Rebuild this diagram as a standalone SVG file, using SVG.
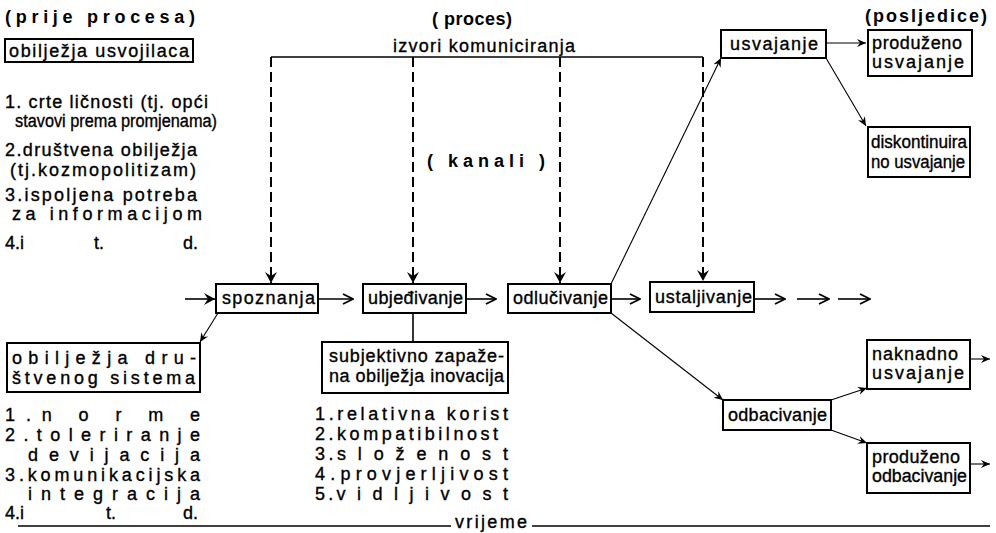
<svg xmlns="http://www.w3.org/2000/svg" width="996" height="533" viewBox="0 0 996 533">
<defs>
<style>
text{font-family:"Liberation Sans","DejaVu Sans",sans-serif;font-size:18px;fill:#000;stroke:#000;stroke-width:0.35;}
.h{font-size:18px;font-weight:bold;stroke-width:0;}
.b{fill:#fff;stroke:#000;stroke-width:2;}
.ln{fill:none;stroke:#000;stroke-width:1.6;}
.th{fill:none;stroke:#000;stroke-width:1.1;}
.ds{fill:none;stroke:#000;stroke-width:2;stroke-dasharray:10 5;}
</style>
<marker id="op" markerWidth="12" markerHeight="12" refX="11" refY="6" orient="auto" markerUnits="userSpaceOnUse">
<path d="M1,1 L11,6 L1,11" fill="none" stroke="#000" stroke-width="1.8"/>
</marker>
<marker id="fl" markerWidth="12" markerHeight="12" refX="11" refY="6" orient="auto" markerUnits="userSpaceOnUse">
<path d="M0,0 L11,6 L0,12 L4,6 Z" fill="#000"/>
</marker>
<marker id="sm" markerWidth="10" markerHeight="10" refX="9" refY="5" orient="auto" markerUnits="userSpaceOnUse">
<path d="M0,1 L9,5 L0,9 L3,5 Z" fill="#000"/>
</marker>
</defs>

<g id="headers">
<text class="h" x="5" y="23" textLength="190" lengthAdjust="spacing">(prije procesa)</text>
<text class="h" x="432" y="25" textLength="80" lengthAdjust="spacing">( proces)</text>
<text class="h" x="865" y="22" textLength="122" lengthAdjust="spacing">(posljedice)</text>
<text x="393" y="52" textLength="182" lengthAdjust="spacing">izvori komuniciranja</text>
<text class="h" x="427" y="167" textLength="118" lengthAdjust="spacing">( kanali )</text>
</g>

<g id="obiljezja-usvojilaca">
<rect class="b" x="5" y="39" width="188" height="23"/>
<text x="9" y="57" textLength="180" lengthAdjust="spacing">obilježja usvojilaca</text>
<text x="5" y="108" textLength="203" lengthAdjust="spacing">1. crte ličnosti (tj. opći</text>
<text x="15" y="127" textLength="202" lengthAdjust="spacingAndGlyphs">stavovi prema promjenama)</text>
<text x="5" y="156" textLength="192" lengthAdjust="spacing">2.društvena obilježja</text>
<text x="10" y="176" textLength="186" lengthAdjust="spacing">(tj.kozmopolitizam)</text>
<text x="5" y="201" textLength="192" lengthAdjust="spacing">3.ispoljena potreba</text>
<text x="12" y="220" textLength="190" lengthAdjust="spacing">za informacijom</text>
<text x="5" y="249">4.i</text>
<text x="94" y="249">t.</text>
<text x="183" y="249">d.</text>
</g>

<g id="connectors">
<path class="ln" d="M271,57 H703"/>
<path class="ds" d="M271,57 V283" marker-end="url(#fl)"/>
<path class="ds" d="M413,57 V283" marker-end="url(#fl)"/>
<path class="ds" d="M560,57 V283" marker-end="url(#fl)"/>
<path class="ds" d="M703,57 V281" marker-end="url(#fl)"/>
<path class="ln" d="M185,299 H215" marker-end="url(#fl)"/>
<path class="ln" d="M318,299 H353" marker-end="url(#op)"/>
<path class="ln" d="M466,299 H496" marker-end="url(#op)"/>
<path class="ln" d="M611,299 H640" marker-end="url(#op)"/>
<path class="ln" d="M754,299 H785" marker-end="url(#op)"/>
<path class="ln" d="M797,299 H829" marker-end="url(#op)"/>
<path class="ln" d="M838,299 H870" marker-end="url(#op)"/>
<path class="th" d="M611,284 L721,58" marker-end="url(#sm)"/>
<path class="th" d="M826,43 H866" marker-end="url(#sm)"/>
<path class="th" d="M826,58 L866,126" marker-end="url(#sm)"/>
<path class="th" d="M611,313 L723,400" marker-end="url(#sm)"/>
<path class="th" d="M831,400 L867,388" marker-end="url(#sm)"/>
<path class="th" d="M831,430 L867,443" marker-end="url(#sm)"/>
<path class="th" d="M970,359 H990" marker-end="url(#sm)"/>
<path class="th" d="M970,464 H990" marker-end="url(#sm)"/>
<path class="th" d="M218,313 L200,342" marker-end="url(#sm)"/>
<path class="ln" d="M413,313 V342"/>
<path class="ln" d="M18,526 H451"/>
<path class="ln" d="M532,526 H990"/>
</g>

<g id="spoznanja">
<rect class="b" x="216" y="284" width="102" height="29"/>
<text x="222" y="304" textLength="93" lengthAdjust="spacing">spoznanja</text>
</g>
<g id="ubjedivanje">
<rect class="b" x="363" y="284" width="103" height="29"/>
<text x="368" y="304" textLength="95" lengthAdjust="spacing">ubjeđivanje</text>
</g>
<g id="odlucivanje">
<rect class="b" x="508" y="284" width="103" height="29"/>
<text x="513" y="304" textLength="95" lengthAdjust="spacing">odlučivanje</text>
</g>
<g id="ustaljivanje">
<rect class="b" x="650" y="282" width="104" height="30"/>
<text x="655" y="303" textLength="97" lengthAdjust="spacing">ustaljivanje</text>
</g>
<g id="usvajanje">
<rect class="b" x="721" y="30" width="105" height="28"/>
<text x="730" y="50" textLength="88" lengthAdjust="spacing">usvajanje</text>
</g>
<g id="produzeno-usvajanje">
<rect class="b" x="868" y="30" width="104" height="46"/>
<text x="872" y="49" textLength="90" lengthAdjust="spacing">produženo</text>
<text x="872" y="68" textLength="92" lengthAdjust="spacing">usvajanje</text>
</g>
<g id="diskontinuirano-usvajanje">
<rect class="b" x="868" y="127" width="102" height="50"/>
<text x="871" y="148" textLength="96" lengthAdjust="spacingAndGlyphs">diskontinuira</text>
<text x="871" y="168" textLength="94" lengthAdjust="spacingAndGlyphs">no usvajanje</text>
</g>
<g id="odbacivanje">
<rect class="b" x="723" y="400" width="108" height="30"/>
<text x="728" y="421" textLength="99" lengthAdjust="spacing">odbacivanje</text>
</g>
<g id="naknadno-usvajanje">
<rect class="b" x="867" y="340" width="103" height="49"/>
<text x="872" y="360" textLength="86" lengthAdjust="spacing">naknadno</text>
<text x="872" y="379" textLength="92" lengthAdjust="spacing">usvajanje</text>
</g>
<g id="produzeno-odbacivanje">
<rect class="b" x="867" y="443" width="103" height="50"/>
<text x="872" y="463" textLength="88" lengthAdjust="spacing">produženo</text>
<text x="872" y="482" textLength="95" lengthAdjust="spacingAndGlyphs">odbacivanje</text>
</g>

<g id="obiljezja-drustvenog-sistema">
<rect class="b" x="7" y="343" width="193" height="49"/>
<text x="12" y="364" textLength="184" lengthAdjust="spacing">obilježja dru-</text>
<text x="12" y="384" textLength="183" lengthAdjust="spacing">štvenog sistema</text>
<text x="5" y="421" textLength="195" lengthAdjust="spacing">1.n o r m e</text>
<text x="5" y="441" textLength="195" lengthAdjust="spacing">2.toleriranje</text>
<text x="28" y="461" textLength="172" lengthAdjust="spacing">devijacija</text>
<text x="5" y="481" textLength="195" lengthAdjust="spacing">3.komunikacijska</text>
<text x="28" y="500" textLength="172" lengthAdjust="spacing">integracija</text>
<text x="5" y="519">4.i</text>
<text x="106" y="519">t.</text>
<text x="183" y="519">d.</text>
</g>

<g id="subjektivno-zapazena-obiljezja">
<rect class="b" x="322" y="342" width="186" height="51"/>
<text x="329" y="362" textLength="175" lengthAdjust="spacing">subjektivno zapaže-</text>
<text x="329" y="382" textLength="175" lengthAdjust="spacing">na obilježja inovacija</text>
<text x="315" y="420" textLength="193" lengthAdjust="spacing">1.relativna korist</text>
<text x="315" y="440" textLength="183" lengthAdjust="spacing">2.kompatibilnost</text>
<text x="315" y="460" textLength="193" lengthAdjust="spacing">3.s l o ž e n o s t</text>
<text x="315" y="480" textLength="193" lengthAdjust="spacing">4.provjerljivost</text>
<text x="315" y="500" textLength="193" lengthAdjust="spacing">5.v i d l j i v o s t</text>
</g>

<g id="vrijeme">
<text x="455" y="528" textLength="72" lengthAdjust="spacing">vrijeme</text>
</g>
</svg>
